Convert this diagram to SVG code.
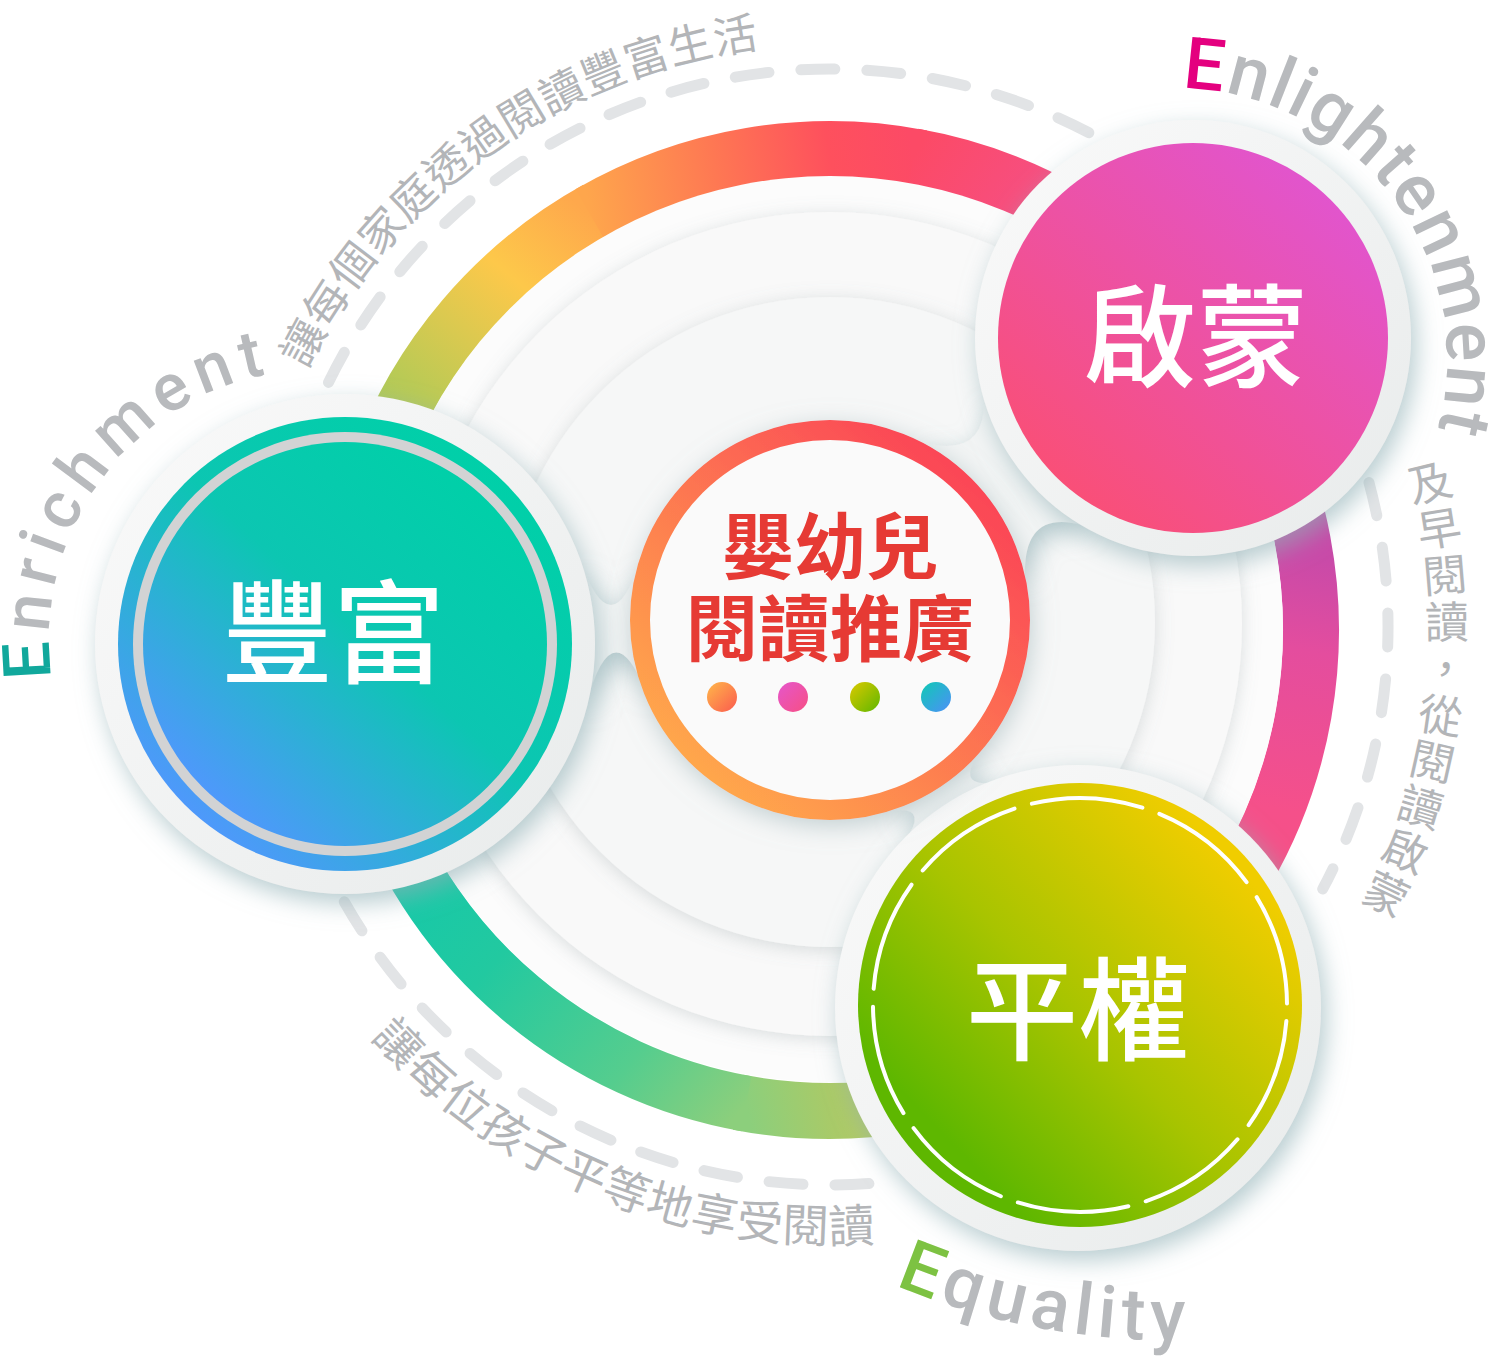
<svg xmlns="http://www.w3.org/2000/svg" xmlns:xlink="http://www.w3.org/1999/xlink" width="1500" height="1356" viewBox="0 0 1500 1356">
<style>
.dash{fill:none;stroke:#e2e4e6;stroke-width:11;stroke-linecap:round;stroke-dasharray:34 32}
.rb{fill:none;stroke-width:56}
.cap{font-family:"Noto Sans CJK TC","Noto Sans CJK SC",sans-serif;font-size:44px;fill:#b3b5b8;font-weight:400}
.eng{font-family:Roboto,"Liberation Sans",sans-serif;font-weight:500;fill:#b8babd}
.big{font-family:"Noto Sans CJK TC","Noto Sans CJK SC",sans-serif;font-size:112px;font-weight:500;fill:#ffffff;text-anchor:middle}
.ctr{font-family:"Noto Sans CJK TC","Noto Sans CJK SC",sans-serif;font-size:72px;font-weight:700;fill:#e63a34;text-anchor:middle}
.layer{filter:url(#lsh)}
.rim{fill:url(#rimG);filter:url(#nsh)}
.neck{fill:#f2f4f4;filter:url(#nsh)}
</style>
<defs>
<filter id="lsh" x="-20%" y="-20%" width="140%" height="140%"><feDropShadow dx="0" dy="3" stdDeviation="9" flood-color="#7d8a8c" flood-opacity="0.28"/></filter>
<filter id="nsh" x="-25%" y="-25%" width="150%" height="150%"><feDropShadow dx="5" dy="9" stdDeviation="12" flood-color="#8fb0b5" flood-opacity="0.65"/></filter>
<filter id="csh" x="-25%" y="-25%" width="150%" height="150%"><feDropShadow dx="2" dy="6" stdDeviation="12" flood-color="#8fa8ac" flood-opacity="0.5"/></filter>
<linearGradient id="rimG" x1="0" y1="0" x2="1" y2="1"><stop offset="0" stop-color="#fafafa"/><stop offset="1" stop-color="#e8ebeb"/></linearGradient>
<linearGradient id="g1" gradientUnits="userSpaceOnUse" x1="378" y1="465.5" x2="589.5" y2="213.5"><stop offset="0" stop-color="#9fc85c"/><stop offset="0.25" stop-color="#b9ca55"/><stop offset="0.7" stop-color="#fdc84a"/><stop offset="1" stop-color="#fea84c"/></linearGradient>
<linearGradient id="g2" gradientUnits="userSpaceOnUse" x1="589.5" y1="213.5" x2="913.5" y2="156.3"><stop offset="0" stop-color="#fea64c"/><stop offset="0.4" stop-color="#fe7853"/><stop offset="0.75" stop-color="#fe505d"/><stop offset="1" stop-color="#fc4a66"/></linearGradient>
<linearGradient id="g3" gradientUnits="userSpaceOnUse" x1="913.5" y1="156.3" x2="1198.5" y2="320.8"><stop offset="0" stop-color="#fc4a66"/><stop offset="0.5" stop-color="#f4508a"/><stop offset="1" stop-color="#e653a6"/></linearGradient>
<linearGradient id="g4" gradientUnits="userSpaceOnUse" x1="1246.5" y1="389.5" x2="1139.2" y2="998.5"><stop offset="0" stop-color="#b848a8"/><stop offset="0.25" stop-color="#c94aa8"/><stop offset="0.4" stop-color="#e44d9e"/><stop offset="0.66" stop-color="#f5508a"/><stop offset="1" stop-color="#f5507e"/></linearGradient>
<linearGradient id="g6" gradientUnits="userSpaceOnUse" x1="1070.5" y1="1046.5" x2="746.5" y2="1103.7"><stop offset="0" stop-color="#d0c84e"/><stop offset="0.45" stop-color="#c2c85c"/><stop offset="0.75" stop-color="#a9ca68"/><stop offset="1" stop-color="#8ccf7c"/></linearGradient>
<linearGradient id="g7" gradientUnits="userSpaceOnUse" x1="746.5" y1="1103.7" x2="378" y2="794.5"><stop offset="0" stop-color="#8ccf7c"/><stop offset="0.24" stop-color="#55cd8e"/><stop offset="0.59" stop-color="#22c9a0"/><stop offset="1" stop-color="#0fc8ae"/></linearGradient>
<linearGradient id="gEn" x1="0.85" y1="0.12" x2="0.15" y2="0.9"><stop offset="0" stop-color="#00d0a8"/><stop offset="0.45" stop-color="#0cc6b2"/><stop offset="1" stop-color="#5296ff"/></linearGradient>
<linearGradient id="gEl" x1="0.9" y1="0.1" x2="0.2" y2="0.9"><stop offset="0" stop-color="#e055d2"/><stop offset="1" stop-color="#f94f78"/></linearGradient>
<linearGradient id="gEq" x1="0.85" y1="0.18" x2="0.2" y2="0.8"><stop offset="0" stop-color="#f0cd00"/><stop offset="0.55" stop-color="#a8c400"/><stop offset="1" stop-color="#5eb700"/></linearGradient>
<linearGradient id="gC" x1="0.85" y1="0.12" x2="0.15" y2="0.88"><stop offset="0" stop-color="#fb4656"/><stop offset="1" stop-color="#ffa64c"/></linearGradient>
<linearGradient id="d1" x1="0" y1="0" x2="1" y2="1"><stop offset="0" stop-color="#ffb84a"/><stop offset="1" stop-color="#fb5a4e"/></linearGradient>
<linearGradient id="d2" x1="0" y1="0" x2="1" y2="1"><stop offset="0" stop-color="#e556cc"/><stop offset="1" stop-color="#f74f84"/></linearGradient>
<linearGradient id="d3" x1="0" y1="0" x2="1" y2="1"><stop offset="0" stop-color="#dcc900"/><stop offset="1" stop-color="#5eb700"/></linearGradient>
<linearGradient id="d4" x1="0" y1="0" x2="1" y2="1"><stop offset="0" stop-color="#0fcab4"/><stop offset="1" stop-color="#4d8ff8"/></linearGradient>
<path id="pTop" d="M306.9,369.6 A583,583 0 0 1 880.8,46.2"/>
<path id="pBot" d="M370.8,1037.6 A616,616 0 0 0 936.9,1233.6"/>
<path id="pEnr" d="M51.6,677.7 A271,271 0 0 1 367,373.1"/>
<path id="pEnl" d="M1182.1,88.1 A272,272 0 0 1 1430.6,453"/>
<path id="pEqu" d="M895.2,1285.1 A715,715 0 0 0 1294.2,1329.1"/>
</defs>
<rect width="1500" height="1356" fill="#ffffff"/>

<g id="outer-dashes">
<path class="dash" d="M328.5,382.4 A558,558 0 0 1 1109,143.8"/>
<path class="dash" d="M1369,482.6 A558,558 0 0 1 1322.7,889"/>
<path class="dash" d="M868.9,1183.6 A558,558 0 0 1 337.3,889"/>
</g>

<g id="captions">
<text class="cap" letter-spacing="0.5"><textPath href="#pTop">讓每個家庭透過閱讀豐富生活</textPath></text>
<text class="cap" style="font-size:46px" letter-spacing="1"><textPath href="#pBot">讓每位孩子平等地享受閱讀</textPath></text>
<g class="cap" text-anchor="middle">
<text transform="translate(1429.9,483) rotate(-13.5)" y="16">及</text>
<text transform="translate(1439.2,529) rotate(-9.14)" y="16">早</text>
<text transform="translate(1444.8,575.5) rotate(-4.79)" y="16">閱</text>
<text transform="translate(1447,622.4) rotate(-0.43)" y="16">讀</text>
<text transform="translate(1445.6,669.2) rotate(3.92)" y="16">，</text>
<text transform="translate(1440.6,715.9) rotate(8.28)" y="16">從</text>
<text transform="translate(1432.1,761.9) rotate(12.63)" y="16">閱</text>
<text transform="translate(1420.1,807.3) rotate(16.99)" y="16">讀</text>
<text transform="translate(1404.7,851.5) rotate(21.34)" y="16">啟</text>
<text transform="translate(1386,894.6) rotate(25.7)" y="16">蒙</text>
</g>
<text class="eng" font-size="66" letter-spacing="8"><textPath href="#pEnr"><tspan fill="#11a89c">E</tspan>nrichment</textPath></text>
<text class="eng" font-size="72" letter-spacing="2"><textPath href="#pEnl"><tspan fill="#e4007f">E</tspan>nlightenment</textPath></text>
<text class="eng" font-size="72" letter-spacing="6"><textPath href="#pEqu"><tspan fill="#7dc242">E</tspan>quality</textPath></text>
</g>

<g id="rainbow">
<path class="rb" stroke="url(#g1)" d="M378,465.5 A481,481 0 0 1 596.8,209.3"/>
<path class="rb" stroke="url(#g2)" d="M589.5,213.5 A481,481 0 0 1 921.8,157.9"/>
<path class="rb" stroke="url(#g3)" d="M913.5,156.3 A481,481 0 0 1 1198.5,320.8"/>
<path class="rb" stroke="url(#g4)" d="M1246.5,389.5 A481,481 0 0 1 1139.2,998.5"/>
<path class="rb" stroke="url(#g6)" d="M1070.5,1046.5 A481,481 0 0 1 738.2,1102.2"/>
<path class="rb" stroke="url(#g7)" d="M746.5,1103.7 A481,481 0 0 1 378,794.5"/>
</g>

<g id="layers">
<circle cx="830" cy="629" r="453" fill="#fcfcfc"/>
<circle class="layer" cx="830" cy="624" r="412" fill="#f9f9f9"/>
<circle class="layer" cx="830" cy="622" r="325" fill="#f6f7f7"/>
</g>

<g id="connectors">
<path class="neck" d="M580,560 Q612,650 640,560 L645,690 Q612,608 586,705 Z"/>
<path class="neck" d="M1084,525.5 Q1023,508 1025,576 L921,442 Q987,460 984,397 Z"/>
<path class="neck" d="M977.5,755 Q955.7,789 997,782 L905.4,840 Q930,805 890,811 Z"/>
</g>

<g id="node-enrichment">
<circle class="rim" cx="345" cy="644" r="250"/>
<circle cx="345" cy="644" r="227" fill="url(#gEn)"/>
<circle cx="345" cy="644" r="212" fill="#d2d3d4"/>
<circle cx="345" cy="644" r="202" fill="url(#gEn)"/>
<text class="big" x="333" y="675">豐富</text>
</g>

<g id="node-enlightenment">
<circle class="rim" cx="1193" cy="338" r="218"/>
<circle cx="1193" cy="338" r="195" fill="url(#gEl)"/>
<text class="big" x="1196" y="379">啟蒙</text>
</g>

<g id="node-equality">
<circle class="rim" cx="1078" cy="1008" r="243"/>
<circle cx="1080" cy="1005" r="222" fill="url(#gEq)"/>
<circle cx="1080" cy="1005" r="207" fill="none" stroke="#ffffff" stroke-width="4" stroke-linecap="round" stroke-dasharray="112 18.06" stroke-dashoffset="114"/>
<text class="big" x="1078" y="1052">平權</text>
</g>

<g id="node-center">
<circle cx="830" cy="620" r="190" fill="#fafafa" stroke="url(#gC)" stroke-width="20" filter="url(#csh)"/>
<text class="ctr" x="830" y="573">嬰幼兒</text>
<text class="ctr" x="830" y="655">閱讀推廣</text>
<circle cx="722" cy="697" r="15" fill="url(#d1)"/>
<circle cx="793" cy="697" r="15" fill="url(#d2)"/>
<circle cx="865" cy="697" r="15" fill="url(#d3)"/>
<circle cx="936" cy="697" r="15" fill="url(#d4)"/>
</g>
</svg>
